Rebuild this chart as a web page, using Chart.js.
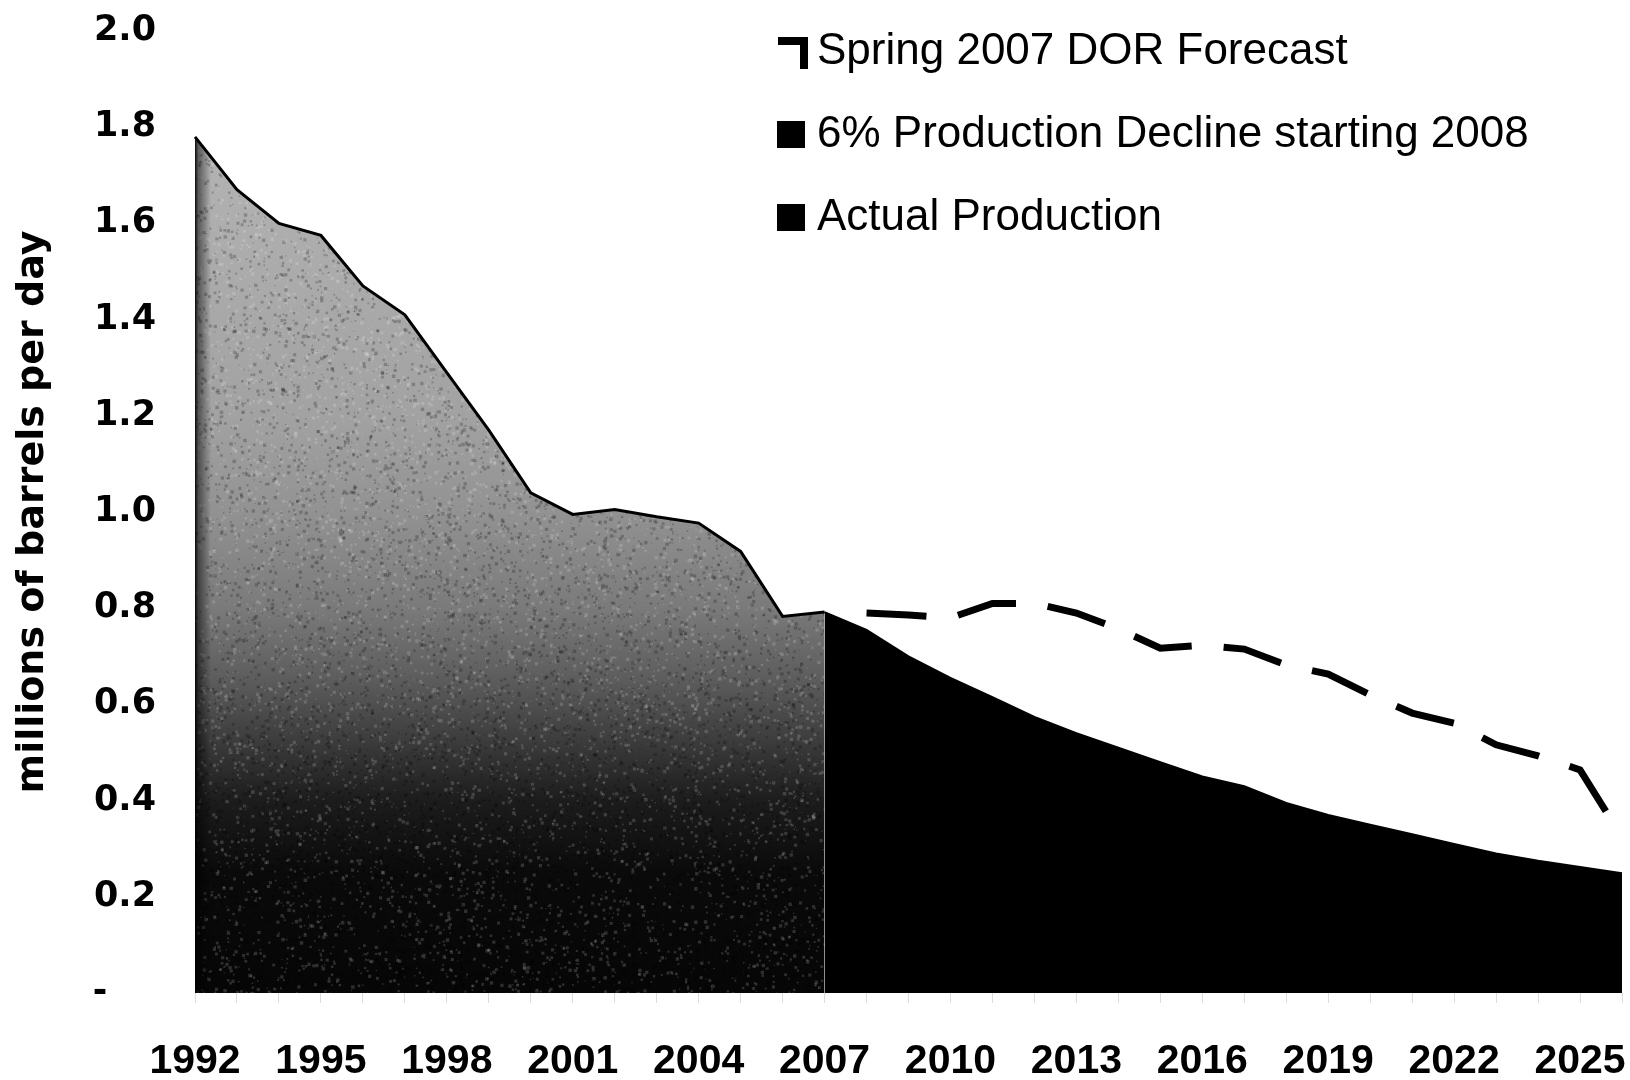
<!DOCTYPE html>
<html>
<head>
<meta charset="utf-8">
<script src="https://cdn.jsdelivr.net/npm/chart.js@4.4.1/dist/chart.umd.min.js"></script>
<style>
  html, body { margin: 0; padding: 0; background: #fff; }
  #chart { display: block; }
</style>
</head>
<body>
<canvas id="chart" width="1630" height="1080"></canvas>
<script>
// years on the category axis, 1992 - 2026
const years = [
  "1992", "1993", "1994", "1995", "1996", "1997", "1998", "1999", "2000",
  "2001", "2002", "2003", "2004", "2005", "2006", "2007", "2008", "2009",
  "2010", "2011", "2012", "2013", "2014", "2015", "2016", "2017", "2018",
  "2019", "2020", "2021", "2022", "2023", "2024", "2025", "2026"
];

// millions of barrels per day
const actualProduction = [
  1.78, 1.67, 1.60, 1.575, 1.47, 1.41, 1.29, 1.17, 1.04,
  0.995, 1.005, 0.99, 0.977, 0.918, 0.783, 0.792,
  null, null, null, null, null, null, null, null, null, null,
  null, null, null, null, null, null, null, null, null
];

const declineFrom2008 = [
  null, null, null, null, null, null, null, null, null,
  null, null, null, null, null, null, 0.792,
  0.755, 0.70, 0.655, 0.615, 0.574, 0.54, 0.51, 0.48, 0.45,
  0.43, 0.395, 0.37, 0.35, 0.33, 0.31, 0.29, 0.275, 0.262, 0.249
];

const dorForecast = [
  null, null, null, null, null, null, null, null, null,
  null, null, null, null, null, null, null,
  0.79, 0.786, 0.78, 0.81, 0.81, 0.79, 0.757, 0.717, 0.723,
  0.715, 0.682, 0.663, 0.62, 0.582, 0.561, 0.516, 0.493, 0.464, 0.324
];

const seriesNames = [
  "Spring 2007 DOR Forecast",
  "6% Production Decline starting 2008",
  "Actual Production"
];

const yTicks = [0, 0.2, 0.4, 0.6, 0.8, 1.0, 1.2, 1.4, 1.6, 1.8, 2.0];

// grainy grey wash for the actual production area: light at the top, black at the base
let grain = null;
function actualFill(context) {
  const chart = context.chart;
  const area = chart.chartArea;
  const xs = chart.scales.x;
  const ys = chart.scales.y;
  if (!area || !xs || !ys) return "#888";
  const key = [area.left, area.top, area.right, area.bottom].join(",");
  if (grain && grain.key === key) return grain.pattern;

  const off = document.createElement("canvas");
  off.width = chart.width;
  off.height = chart.height;
  const g = off.getContext("2d");

  const wash = g.createLinearGradient(0, ys.getPixelForValue(1.8), 0, ys.getPixelForValue(0));
  wash.addColorStop(0.0, "#b4b4b4");
  wash.addColorStop(0.333, "#a2a2a2");
  wash.addColorStop(0.444, "#929292");
  wash.addColorStop(0.556, "#7a7a7a");
  wash.addColorStop(0.639, "#5c5c5c");
  wash.addColorStop(0.722, "#363636");
  wash.addColorStop(0.778, "#1c1c1c");
  wash.addColorStop(0.861, "#0a0a0a");
  wash.addColorStop(1.0, "#060606");
  g.fillStyle = wash;
  g.fillRect(0, 0, off.width, off.height);

  // speckle, from a fixed-seed generator so every render is the same
  let seed = 12345;
  const next = () => (seed = (seed * 16807) % 2147483647) / 2147483647;
  for (let i = 0; i < 45000; i++) {
    const px = area.left + next() * area.width;
    const py = area.top + next() * area.height;
    const s = 1 + next() * 2.5;
    g.fillStyle = next() < 0.55 ? "rgba(0,0,0,0.22)" : "rgba(255,255,255,0.16)";
    g.fillRect(px, py, s, s);
  }

  // dark seam along the left edge of the area
  const x0 = xs.getPixelForValue(0);
  const seam = g.createLinearGradient(x0, 0, x0 + 16, 0);
  seam.addColorStop(0, "rgba(0,0,0,0.95)");
  seam.addColorStop(0.2, "rgba(0,0,0,0.5)");
  seam.addColorStop(1, "rgba(0,0,0,0)");
  g.fillStyle = seam;
  g.fillRect(x0 - 2, 0, 18, off.height);

  grain = { key, pattern: chart.ctx.createPattern(off, "no-repeat") };
  return grain.pattern;
}

// legend stacked top right, one entry per row
const rowKey = {
  id: "rowKey",
  afterDraw(chart) {
    const ctx = chart.ctx;
    ctx.save();
    ctx.font = '44px "Liberation Sans", Arial, sans-serif';
    ctx.textBaseline = "middle";
    ctx.textAlign = "left";
    ctx.fillStyle = "#000";
    chart.data.datasets.forEach((ds, i) => {
      const y = 52 + i * 83;
      if (ds.borderDash && ds.borderDash.length) {
        ctx.fillRect(778, y - 15, 30, 8);
        ctx.fillRect(800, y - 15, 8, 32);
      } else {
        ctx.fillRect(777, y - 14, 28, 27);
      }
      ctx.fillText(ds.label, 817, y);
    });
    ctx.restore();
  }
};

const ctx = document.getElementById("chart").getContext("2d");

new Chart(ctx, {
  type: "line",
  data: {
    labels: years,
    datasets: [
      {
        label: seriesNames[0],
        data: dorForecast,
        borderColor: "#000",
        borderWidth: 7,
        borderDash: [60, 32],
        borderCapStyle: "butt",
        fill: false,
        pointRadius: 0,
        tension: 0
      },
      {
        label: seriesNames[1],
        data: declineFrom2008,
        borderColor: "#000",
        backgroundColor: "#000",
        borderWidth: 2,
        fill: "origin",
        pointRadius: 0,
        tension: 0
      },
      {
        label: seriesNames[2],
        data: actualProduction,
        borderColor: "#000",
        backgroundColor: actualFill,
        borderWidth: 3,
        fill: "origin",
        pointRadius: 0,
        tension: 0
      }
    ]
  },
  options: {
    responsive: false,
    animation: false,
    layout: { padding: { top: 31, right: 8, left: 0, bottom: 0 } },
    plugins: {
      legend: { display: false },
      tooltip: { enabled: false }
    },
    scales: {
      x: {
        type: "category",
        offset: false,
        grid: {
          display: true,
          drawOnChartArea: false,
          drawTicks: true,
          tickLength: 10,
          color: "#dcdcdc"
        },
        border: { display: false },
        ticks: {
          autoSkip: false,
          maxRotation: 0,
          padding: 34,
          color: "#000",
          font: { family: '"Liberation Sans", Arial, sans-serif', size: 41, weight: "bold" },
          callback: function (val, i) {
            return i % 3 === 0 ? this.getLabelForValue(val) : "";
          }
        },
        afterFit: (scale) => {
          scale.height = 87;
          // the plot runs edge to edge, labels may hang past it
          scale.paddingLeft = 0;
          scale.paddingRight = 0;
        }
      },
      y: {
        min: 0,
        max: 2,
        grid: { display: false, drawTicks: false },
        border: { display: false },
        afterBuildTicks: (scale) => {
          scale.ticks = yTicks.map((v) => ({ value: v }));
        },
        ticks: {
          padding: 39,
          color: "#000",
          font: { family: '"DejaVu Sans", sans-serif', size: 35, weight: "bold" },
          callback: (v) => (v === 0 ? "-    " : Number(v).toFixed(1))
        },
        title: {
          display: true,
          text: "millions of barrels per day",
          color: "#000",
          padding: { top: 10, bottom: 0 },
          font: { family: '"DejaVu Sans", sans-serif', size: 38, weight: "bold" }
        },
        afterFit: (scale) => {
          scale.width = 195;
          scale.paddingTop = 0;
          scale.paddingBottom = 0;
        }
      }
    }
  },
  plugins: [rowKey]
});
</script>
</body>
</html>
